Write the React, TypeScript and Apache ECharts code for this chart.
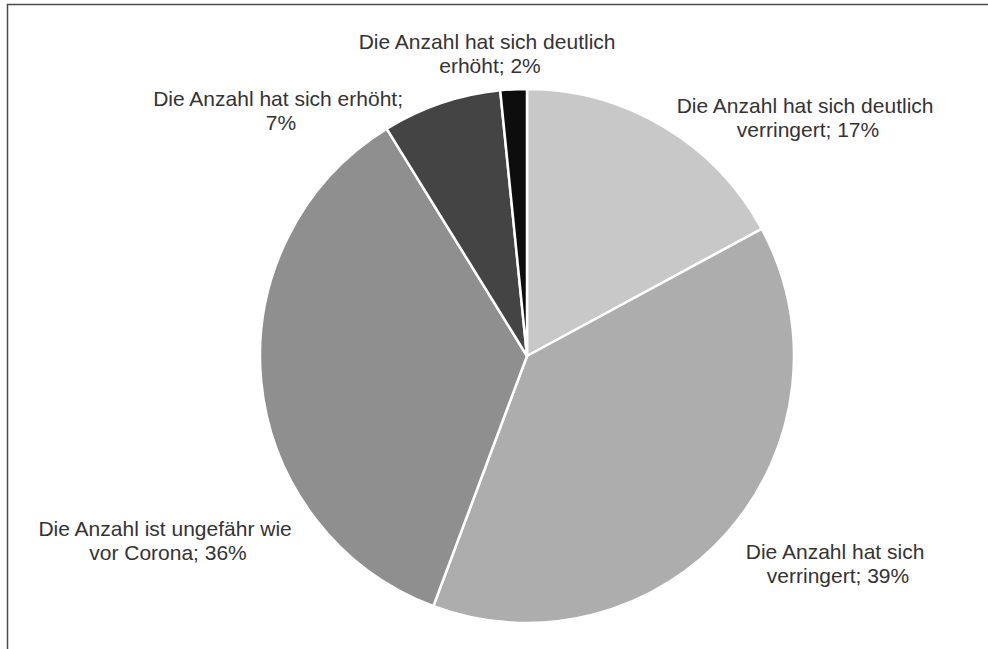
import React, { useEffect, useRef } from "react";
import * as echarts from "echarts";

// Categories in clockwise order from 12 o'clock
const categories: string[] = [
  "Die Anzahl hat sich deutlich verringert",
  "Die Anzahl hat sich verringert",
  "Die Anzahl ist ungefähr wie vor Corona",
  "Die Anzahl hat sich erhöht",
  "Die Anzahl hat sich deutlich erhöht",
];

// Shares in percent (labels show rounded values)
const shares: number[] = [17.1, 38.6, 35.5, 7.2, 1.6];

// Styling (not data)
const sliceColors: string[] = ["#c8c8c8", "#adadad", "#8f8f8f", "#444444", "#0d0d0d"];
const labelCenters: [number, number][] = [
  [808, 117],
  [838, 563],
  [168, 540],
  [281, 110],
  [490, 53],
];

export default function App() {
  const ref = useRef<HTMLDivElement>(null);

  useEffect(() => {
    if (!ref.current) return;
    const chart = echarts.init(ref.current, null, { renderer: "svg" });
    chart.setOption({
      animation: false,
      backgroundColor: "#ffffff",
      graphic: [
        {
          type: "rect",
          shape: { x: 7.5, y: 4.5, width: 1000, height: 700 },
          style: { fill: "none", stroke: "#4a4a4a", lineWidth: 1.5 },
          silent: true,
        },
      ],
      series: [
        {
          type: "pie",
          center: [527, 356],
          radius: [0, 267],
          startAngle: 90,
          clockwise: true,
          avoidLabelOverlap: false,
          itemStyle: { borderColor: "#ffffff", borderWidth: 2.5 },
          label: {
            show: true,
            position: "outside",
            fontFamily: "Liberation Sans, Arial, sans-serif",
            fontSize: 21,
            lineHeight: 24,
            color: "#333333",
            align: "center",
            width: 272,
            overflow: "break",
            formatter: (p: any) => `${p.name}; ${Math.round(p.value)}%`,
          },
          labelLine: { show: false },
          labelLayout: (params: any) => {
            const c = labelCenters[params.dataIndex];
            return { x: c[0], y: c[1], align: "center", verticalAlign: "middle" };
          },
          emphasis: { disabled: true },
          data: categories.map((name, i) => ({
            name,
            value: shares[i],
            itemStyle: { color: sliceColors[i] },
          })),
        },
      ],
    });
    return () => chart.dispose();
  }, []);

  return (
    <div
      ref={ref}
      style={{ position: "fixed", left: 0, top: 0, width: 988, height: 649 }}
    />
  );
}
